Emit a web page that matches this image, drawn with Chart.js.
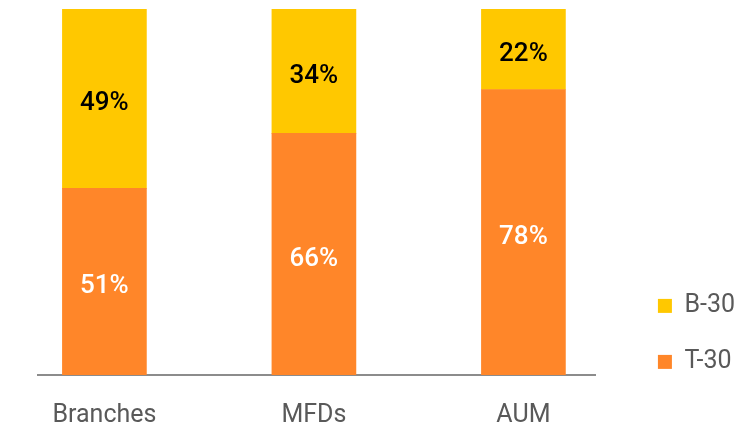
<!DOCTYPE html>
<html>
<head>
<meta charset="utf-8">
<script src="https://cdn.jsdelivr.net/npm/chart.js@4"></script>
<style>
  html, body { margin: 0; padding: 0; background: #fff; }
  #wrap { width: 741px; height: 425px; }
</style>
</head>
<body>
<div id="wrap"><canvas id="share-chart"></canvas></div>
<script>
let categories = ['Branches', 'MFDs', 'AUM'];
let t30Values = [51, 66, 78];
let b30Values = [49, 34, 22];
let seriesNames = ['T-30', 'B-30'];

let orange = '#FF8629';
let yellow = '#FFC800';

let toPoints = vals => vals.map((v, i) => ({ x: i, y: v }));

// writes the % value in the middle of every bar piece
let barLabels = {
  id: 'barLabels',
  afterDatasetsDraw(chart) {
    const ctx = chart.ctx;
    ctx.save();
    ctx.font = '500 26px Roboto';
    ctx.textAlign = 'center';
    ctx.textBaseline = 'middle';
    chart.data.datasets.forEach((ds, di) => {
      const meta = chart.getDatasetMeta(di);
      meta.data.forEach((bar, i) => {
        const mid = (bar.y + bar.base) / 2;
        ctx.fillStyle = di === 0 ? '#ffffff' : '#000000';
        ctx.fillText(ds.data[i].y + '%', bar.x, mid + 5);
      });
    });
    ctx.restore();
  }
};

let renderChart = () => {
  let canvas = document.getElementById('share-chart');
  new Chart(canvas, {
    type: 'bar',
    data: {
      datasets: [
        { label: seriesNames[0], data: toPoints(t30Values), backgroundColor: orange, barThickness: 84 },
        { label: seriesNames[1], data: toPoints(b30Values), backgroundColor: yellow, barThickness: 84 },
      ],
    },
    options: {
      responsive: true,
      maintainAspectRatio: false,
      animation: false,
      layout: { padding: { left: 38, top: 9, right: -4, bottom: 0 } },
      plugins: {
        tooltip: { enabled: false },
        legend: {
          position: 'right',
          align: 'start',
          reverse: true,
          // empty title only pushes the two items down
          title: { display: true, text: '', padding: { top: 239, bottom: 0 } },
          labels: {
            boxWidth: 14,
            boxHeight: 14,
            padding: 31,
            color: '#595959',
            font: { family: 'Roboto', size: 25 },
          },
        },
      },
      scales: {
        x: {
          type: 'linear',
          stacked: true,
          offset: false,
          bounds: 'data',
          min: -0.317,
          max: 2.346,
          afterBuildTicks: axis => { axis.ticks = categories.map((c, i) => ({ value: i })); },
          afterFit: axis => { axis.height = 50; },
          grid: { display: false },
          border: { display: true, color: '#8c8c8c', width: 2 },
          ticks: {
            padding: 18,
            color: '#595959',
            font: { family: 'Roboto', size: 25 },
            callback: v => categories[v],
          },
        },
        y: {
          stacked: true,
          position: 'right',
          min: 0,
          max: 100,
          afterFit: axis => { axis.width = 31; },
          grid: { display: false },
          border: { display: false },
          ticks: { display: false },
        },
      },
    },
    plugins: [barLabels],
  });
};

renderChart();
</script>
</body>
</html>
